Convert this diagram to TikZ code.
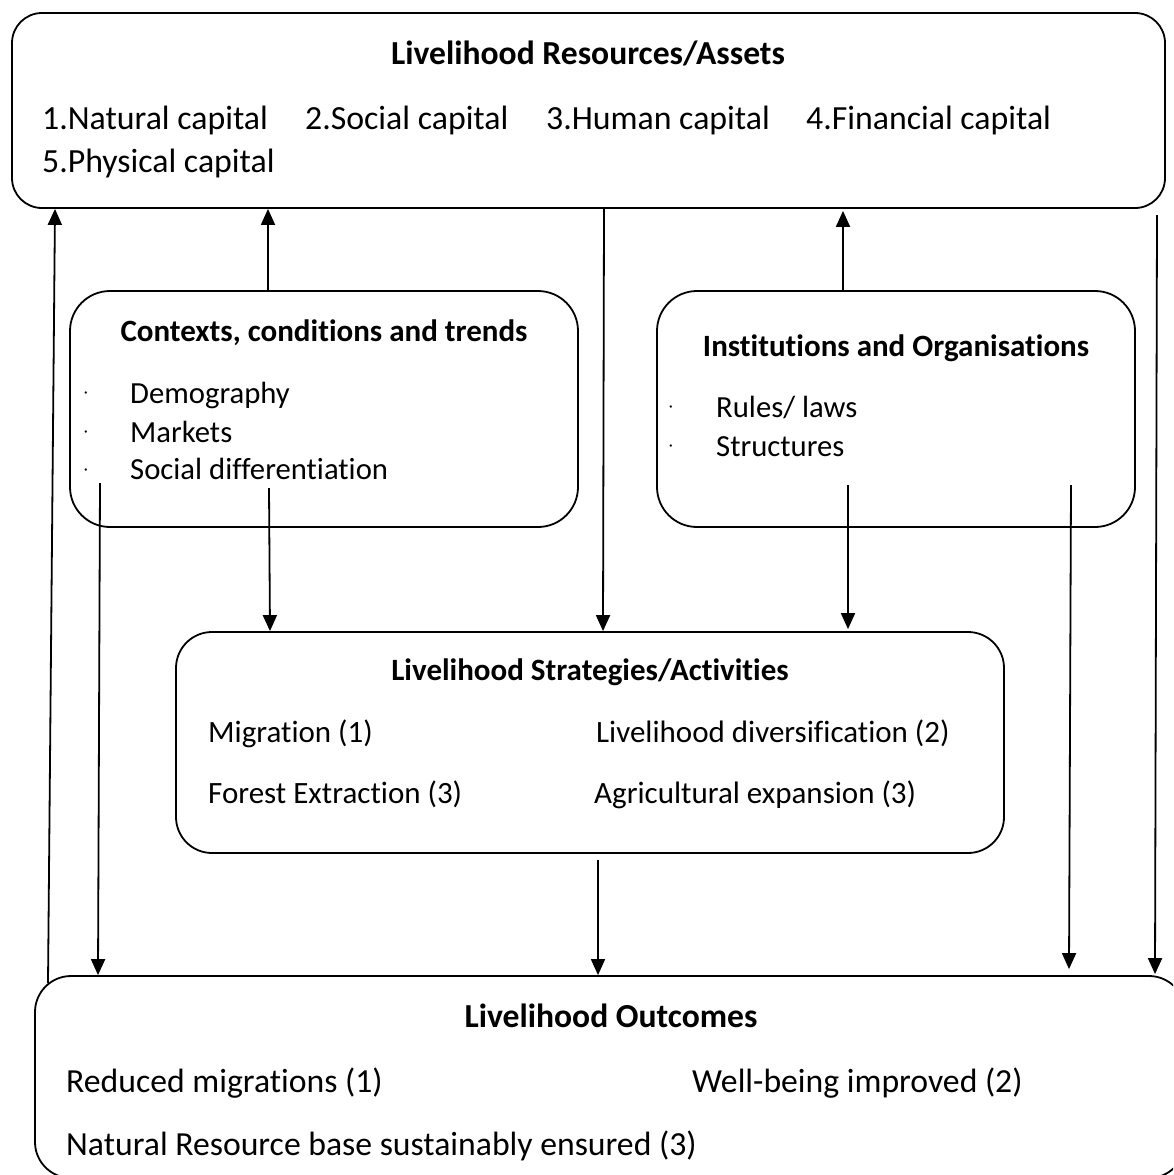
\documentclass[tikz,border=0pt]{standalone}
\usepackage{fontspec}
\setmainfont{Carlito}[Ligatures=NoCommon]
\usetikzlibrary{arrows.meta,calc}
\tikzset{
  box/.style={draw, line width=1.8pt, rounded corners=#1, inner sep=0pt},
  box/.default=35pt,
  conn/.style={line width=1.8pt, -{Triangle[width=14pt,length=16pt]}},
  ttl/.style={anchor=base, inner sep=0pt, font=\fontsize{31}{37}\selectfont\bfseries},
  ttlL/.style={anchor=base, inner sep=0pt, font=\fontsize{33.6}{40}\selectfont\bfseries},
  txtA/.style={anchor=base west, inner sep=0pt, font=\fontsize{33.8}{40}\selectfont},
  txtB/.style={anchor=base west, inner sep=0pt, font=\fontsize{30.7}{36}\selectfont},
  txtC/.style={anchor=base west, inner sep=0pt, font=\fontsize{31}{37}\selectfont},
  txtD/.style={anchor=base west, inner sep=0pt, font=\fontsize{33.7}{40}\selectfont},
  bul/.style={anchor=center, inner sep=0pt, font=\fontsize{16}{20}\selectfont},
}
\begin{document}
\begin{tikzpicture}[x=1pt,y=-1pt]
\useasboundingbox (0,0) rectangle (1173,1175);
\clip (0,0) rectangle (1173,1175);
\fill[white] (0,0) rectangle (1173,1175);

% boxes
\node[box=30pt, minimum width=1153pt, minimum height=195pt] (top) at (588.5,110.5) {};
\node[box=40pt, minimum width=508pt, minimum height=236pt] (ctx) at (324,409) {};
\node[box=40pt, minimum width=478pt, minimum height=236pt] (inst) at (896,409) {};
\node[box=36pt, minimum width=828pt, minimum height=221pt] (strat) at (590,742.5) {};
\node[box=36pt, minimum width=1150pt, minimum height=202pt] (outc) at (610,1077) {};

% top box texts
\node[ttlL] (topT) at (588,64) {Livelihood Resources/Assets};
\node[txtA] (nat) at (42,129) {1.Natural capital};
\node[txtA] (soc) at (305,129) {2.Social capital};
\node[txtA] (hum) at (546,129) {3.Human capital};
\node[txtA] (fin) at (806,129) {4.Financial capital};
\node[txtA] (phy) at (42,172) {5.Physical capital};

% contexts
\node[ttl] (ctxT) at (324,341) {Contexts, conditions and trends};
\node[bul] (cb1) at (86,395) {·};
\node[bul] (cb2) at (86,434) {·};
\node[bul] (cb3) at (86,472) {·};
\node[txtB] (dem) at (130,403) {Demography};
\node[txtB] (mar) at (130,442) {Markets};
\node[txtB] (sdf) at (130,479) {Social differentiation};

% institutions
\node[ttl] (instT) at (896,356) {Institutions and Organisations};
\node[bul] (ib1) at (671,409) {·};
\node[bul] (ib2) at (671,448) {·};
\node[txtB] (rul) at (716,417) {Rules/ laws};
\node[txtB] (str) at (716,456) {Structures};

% strategies
\node[ttl] (stratT) at (590,680) {Livelihood Strategies/Activities};
\node[txtC] (mig) at (208,742) {Migration (1)};
\node[txtC] (div) at (596,742) {Livelihood diversification (2)};
\node[txtC] (for) at (208,803) {Forest Extraction (3)};
\node[txtC] (agr) at (594,803) {Agricultural expansion (3)};

% outcomes
\node[ttlL] (outT) at (611,1027) {Livelihood Outcomes};
\node[txtD] (red) at (66,1092) {Reduced migrations (1)};
\node[txtD] (wel) at (692,1092) {Well-being improved (2)};
\node[txtD] (nrb) at (66,1155) {Natural Resource base sustainably ensured (3)};

% helper coordinates
\coordinate (x48) at (48,0);
\coordinate (x55) at (55,0);
\coordinate (x98) at (98,0);
\coordinate (x268) at (268,0);
\coordinate (x270) at (270,0);
\coordinate (x598) at (598,0);
\coordinate (x603) at (603,0);
\coordinate (x604) at (604,0);
\coordinate (x843) at (843,0);
\coordinate (x848) at (848,0);
\coordinate (x1069) at (1069,0);
\coordinate (x1155) at (1155,0);
\coordinate (s1) at (100,483);
\coordinate (s2) at (269,488);
\coordinate (s3) at (848,485);
\coordinate (s4) at (1071,485);
\coordinate (s5) at (598,860);
\coordinate (s6) at (1157,215);

% connectors
\draw[conn] ($(outc.north -| x48)+(0,8)$) -- (top.south -| x55);
\draw[conn] (ctx.north -| x268) -- (top.south -| x268);
\draw[conn] (top.south -| x604) -- (strat.north -| x603);
\draw[conn] (inst.north -| x843) -- ($(top.south -| x843)+(0,2)$);
\draw[conn] (s6) -- ($(outc.north -| x1155)+(0,-1)$);
\draw[conn] (s1) -- (outc.north -| x98);
\draw[conn] (s2) -- (strat.north -| x270);
\draw[conn] (s3) -- ($(strat.north -| x848)+(0,-2)$);
\draw[conn] (s4) -- ($(outc.north -| x1069)+(0,-6)$);
\draw[conn] (s5) -- (outc.north -| x598);
\end{tikzpicture}
\end{document}
